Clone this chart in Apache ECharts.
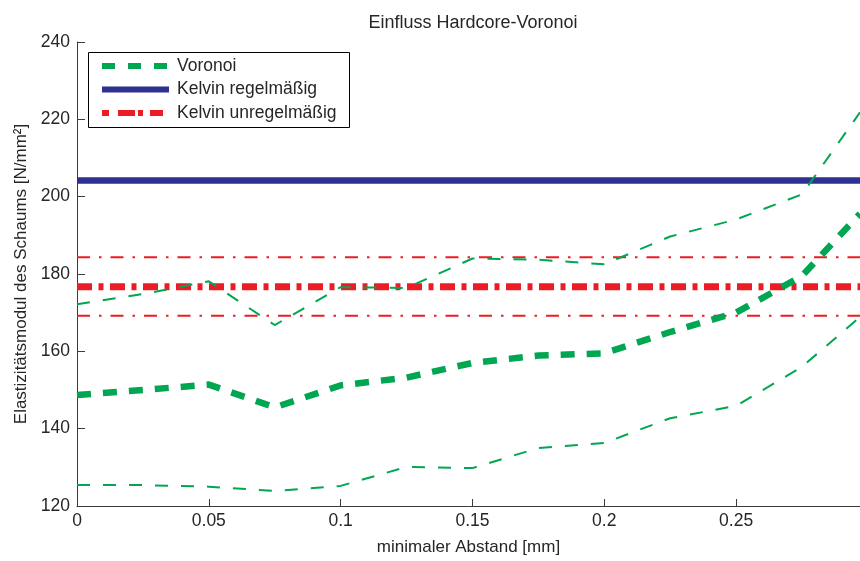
<!DOCTYPE html>
<html>
<head>
<meta charset="utf-8">
<script src="https://cdn.jsdelivr.net/npm/echarts@6/dist/echarts.min.js"></script>
<style>
html,body{margin:0;padding:0;background:#fff;}
#c{width:860px;height:561px;}
</style>
</head>
<body>
<div id="c"></div>
<script>
// ---- data ----
var xValues = [0, 0.025, 0.05, 0.075, 0.1, 0.125, 0.15, 0.175, 0.2, 0.225, 0.25, 0.275, 0.297];
var voronoiMean  = [148.7, 150.0, 151.4, 145.5, 151.2, 153.2, 157.0, 158.9, 159.5, 165.0, 170.0, 179.5, 195.6];
var voronoiUpper = [172.2, 174.8, 178.1, 166.8, 176.6, 176.4, 184.0, 183.7, 182.5, 189.7, 194.1, 200.6, 221.8];
var voronoiLower = [125.4, 125.4, 125.0, 123.9, 125.2, 130.1, 129.8, 135.0, 136.3, 142.7, 145.9, 156.0, 168.9];
var kelvinRegular = 204.2;
var kelvinIrregularMean = 176.7;
var kelvinIrregularUpper = 184.3;
var kelvinIrregularLower = 169.2;
var xRange = [0, 0.297];
var xTicks = [0, 0.05, 0.1, 0.15, 0.2, 0.25];
var yTicks = [120, 140, 160, 180, 200, 220, 240];
var legendNames = ['Voronoi', 'Kelvin regelmäßig', 'Kelvin unregelmäßig'];
var titleText = 'Einfluss Hardcore-Voronoi';
var xLabel = 'minimaler Abstand [mm]';
var yLabel = 'Elastizitätsmodul des Schaums [N/mm²]';

// ---- styles ----
var GREEN = '#00a651', BLUE = '#2e3192', RED = '#ed1c24';
var FONT = '"Liberation Sans", Arial, Helvetica, sans-serif';
var TXT = '#262626';

function pairs(xs, ys) { return xs.map(function (x, i) { return [x, ys[i]]; }); }
function flat(v) { return [[xRange[0], v], [xRange[1], v]]; }

var chart = echarts.init(document.getElementById('c'), null, {renderer: 'canvas'});

var lx0 = 102, lx1 = 169, ltx = 177, rows = [66, 89.5, 113];

var option = {
  animation: false,
  backgroundColor: '#fff',
  title: {
    text: titleText, left: 468, top: 9, textAlign: 'center',
    textStyle: {fontFamily: FONT, fontSize: 18, fontWeight: 'normal', color: TXT}
  },
  grid: {left: 77, right: 0, top: 42, bottom: 55, containLabel: false},
  xAxis: {
    type: 'value', min: xRange[0], max: xRange[1],
    name: xLabel, nameLocation: 'middle', nameGap: 33,
    nameTextStyle: {fontFamily: FONT, fontSize: 17, color: TXT},
    axisLine: {show: true, onZero: false, lineStyle: {color: '#3a3a3a', width: 1}},
    axisTick: {show: true, inside: true, length: 7, customValues: xTicks, lineStyle: {color: '#3a3a3a'}},
    axisLabel: {
      customValues: xTicks, margin: 6, fontFamily: FONT, fontSize: 17.5, color: TXT,
      formatter: function (v) { return String(+v.toFixed(3)); }
    },
    splitLine: {show: false}
  },
  yAxis: {
    type: 'value', min: 120, max: 240, interval: 20,
    name: yLabel, nameLocation: 'middle', nameGap: 42, nameRotate: 90,
    nameTextStyle: {fontFamily: FONT, fontSize: 17, color: TXT},
    axisLine: {show: true, onZero: false, lineStyle: {color: '#3a3a3a', width: 1}},
    axisTick: {show: true, inside: true, length: 8, customValues: yTicks, lineStyle: {color: '#3a3a3a'}},
    axisLabel: {customValues: yTicks, margin: 7, fontFamily: FONT, fontSize: 17.5, color: TXT},
    splitLine: {show: false}
  },
  series: [
    {name: legendNames[1], type: 'line', symbol: 'none', data: flat(kelvinRegular), z: 2,
      lineStyle: {color: BLUE, width: 6.5, type: 'solid'}},
    {name: 'KU+', type: 'line', symbol: 'none', data: flat(kelvinIrregularUpper), z: 2,
      lineStyle: {color: RED, width: 2, type: [13, 9, 2.5, 9], cap: 'butt'}},
    {name: 'KU-', type: 'line', symbol: 'none', data: flat(kelvinIrregularLower), z: 2,
      lineStyle: {color: RED, width: 2, type: [13, 9, 2.5, 9], cap: 'butt'}},
    {name: legendNames[2], type: 'line', symbol: 'none', data: flat(kelvinIrregularMean), z: 2,
      lineStyle: {color: RED, width: 7, type: [15, 6.5, 5, 6.5], cap: 'butt'}},
    {name: 'V+', type: 'line', symbol: 'none', data: pairs(xValues, voronoiUpper), z: 3,
      lineStyle: {color: GREEN, width: 2, type: [13, 13], cap: 'butt'}},
    {name: 'V-', type: 'line', symbol: 'none', data: pairs(xValues, voronoiLower), z: 3,
      lineStyle: {color: GREEN, width: 2, type: [13, 13], cap: 'butt'}},
    {name: legendNames[0], type: 'line', symbol: 'none', data: pairs(xValues, voronoiMean), z: 3,
      lineStyle: {color: GREEN, width: 6.5, type: [14, 12], cap: 'butt', join: 'miter'}}
  ],
  graphic: [
    {type: 'rect', z: 100, shape: {x: 88.5, y: 52.5, width: 261, height: 75},
      style: {fill: '#fff', stroke: '#000', lineWidth: 1}},
    {type: 'line', z: 101, shape: {x1: lx0, y1: rows[0], x2: lx1, y2: rows[0]},
      style: {stroke: GREEN, lineWidth: 6, lineDash: [13, 13]}},
    {type: 'line', z: 101, shape: {x1: lx0, y1: rows[1], x2: lx1, y2: rows[1]},
      style: {stroke: BLUE, lineWidth: 6}},
    {type: 'line', z: 101, shape: {x1: lx0, y1: rows[2], x2: lx1, y2: rows[2]},
      style: {stroke: RED, lineWidth: 6, lineDash: [7, 9, 17, 3, 5, 7, 13, 40]}},
    {type: 'text', z: 101, x: ltx, y: rows[0], style: {text: legendNames[0], font: '17.5px ' + FONT, fill: TXT, verticalAlign: 'middle'}},
    {type: 'text', z: 101, x: ltx, y: rows[1], style: {text: legendNames[1], font: '17.5px ' + FONT, fill: TXT, verticalAlign: 'middle'}},
    {type: 'text', z: 101, x: ltx, y: rows[2], style: {text: legendNames[2], font: '17.5px ' + FONT, fill: TXT, verticalAlign: 'middle'}}
  ]
};
chart.setOption(option);
</script>
</body>
</html>
